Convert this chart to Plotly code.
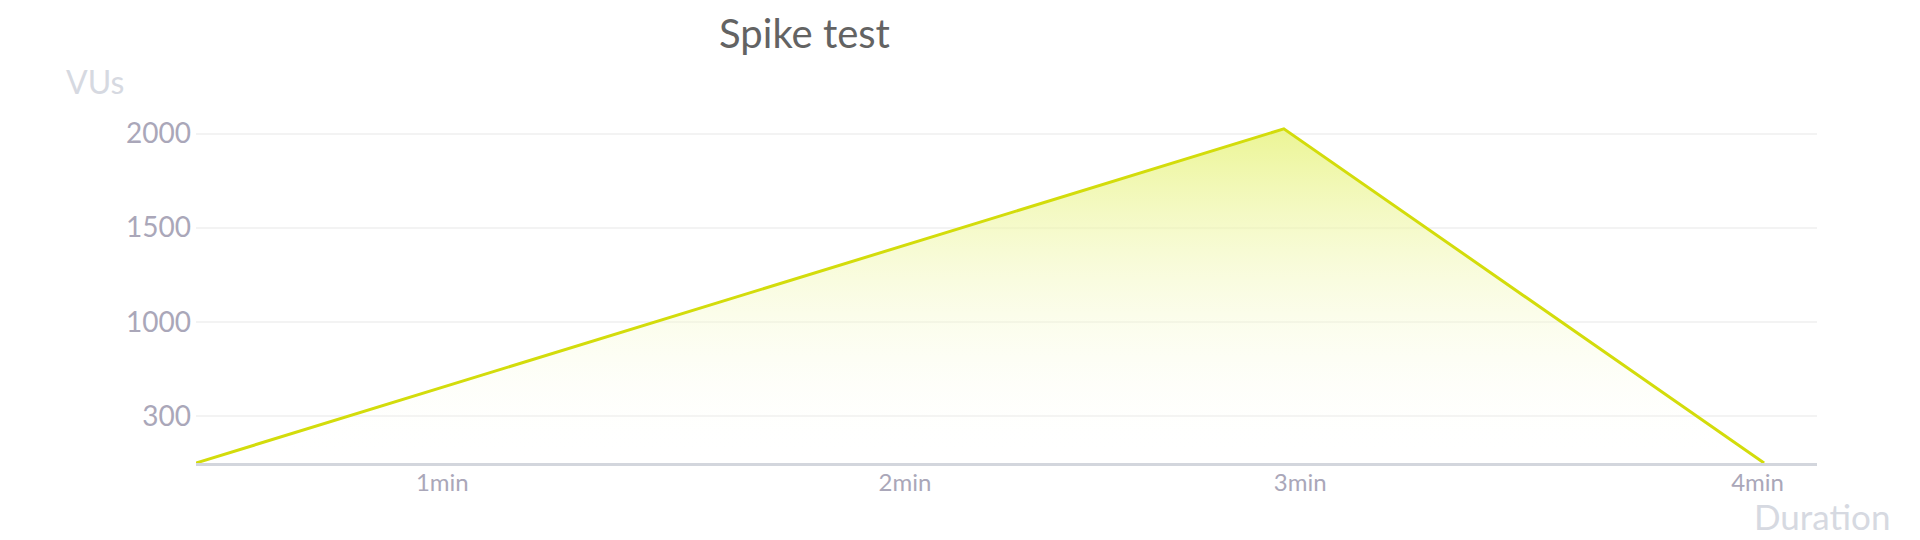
import plotly.graph_objects as go

# duration in seconds, virtual users
seconds = [0, 166.5, 240]
vus = [250, 2025, 250]

x_tick_pos = [37.7, 108.5, 169, 239]
x_tick_text = ["1min", "2min", "3min", "4min"]
y_tick_pos = [500, 1000, 1500, 2000]
y_tick_text = ["300", "1000", "1500", "2000"]

line_color = "#d3dc0b"
font = "Lato"

fig = go.Figure()
fig.add_trace(go.Scatter(
    x=seconds, y=vus, mode="lines",
    line=dict(color=line_color, width=3),
    fill="tozeroy",
    fillgradient=dict(type="vertical", start=250, stop=2025,
                      colorscale=[[0, "rgba(255,255,255,0)"], [1, "rgba(232,243,130,0.85)"]]),
    hoverinfo="skip",
))

# page body has an 8px margin, so the figure is a bit smaller than the window
fig.update_layout(
    width=1912, height=532,
    margin=dict(l=188, r=103, t=92, b=77),
    paper_bgcolor="white", plot_bgcolor="white",
    showlegend=False,
    font=dict(family=font),
    title=dict(text="Spike test", x=0.4166, xanchor="center", y=0.951, yanchor="middle",
               xref="container", yref="container",
               font=dict(family=font, size=40, color="#636363")),
)
fig.update_xaxes(range=[0, 248.1], tickvals=x_tick_pos, ticktext=x_tick_text,
                 showgrid=False, zeroline=False, showline=True, linecolor="#d3d6dd", linewidth=2.5,
                 ticks="", ticklabelstandoff=-4, tickfont=dict(size=24, color="#aaa7b9"),
                 fixedrange=True, automargin=False)
fig.update_yaxes(range=[250, 2178], tickvals=y_tick_pos, ticktext=y_tick_text,
                 showgrid=True, gridcolor="#f3f3f3", gridwidth=2, zeroline=False, showline=False,
                 ticks="", ticklabelstandoff=4, tickfont=dict(size=28, color="#aaa7b9"),
                 fixedrange=True, automargin=False)

fig.add_annotation(text="VUs", xref="paper", yref="paper", x=-0.0814, y=1.052,
                   xanchor="left", yanchor="middle", showarrow=False,
                   font=dict(family=font, size=32, color="#d6d9e1"))
fig.add_annotation(text="Duration", xref="paper", yref="paper", x=1.046, y=-0.145,
                   xanchor="right", yanchor="middle", showarrow=False,
                   font=dict(family=font, size=35, color="#d6d9e1"))

fig.write_html("out.html")
